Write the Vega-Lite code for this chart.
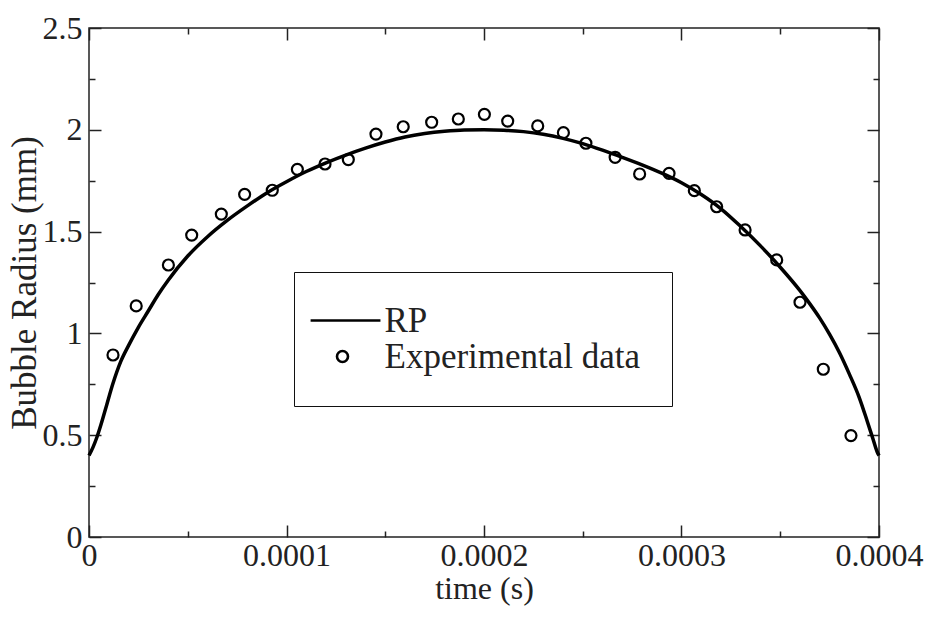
{
  "$schema": "https://vega.github.io/schema/vega-lite/v6.json",
  "width": 790,
  "height": 509,
  "autosize": "none",
  "padding": {"left": 89, "top": 28, "right": 48, "bottom": 80},
  "background": "white",
  "config": {
    "view": {"stroke": "#222", "strokeWidth": 1.5},
    "font": "'Liberation Serif', 'Times New Roman', Times, serif",
    "axis": {
      "labelFont": "'Liberation Serif', 'Times New Roman', Times, serif",
      "labelFontSize": 32,
      "labelColor": "#222",
      "titleFont": "'Liberation Serif', 'Times New Roman', Times, serif",
      "titleFontSize": 32,
      "titleFontWeight": "normal",
      "titleColor": "#222",
      "grid": false,
      "domain": false,
      "tickColor": "#222",
      "tickWidth": 1.5,
      "labelOverlap": false,
      "labelFlush": false
    },
    "legend": {
      "labelFont": "'Liberation Serif', 'Times New Roman', Times, serif",
      "labelFontSize": 35,
      "labelColor": "#222"
    }
  },
  "datasets": {
    "rp": [
      {"t": 0, "r": 0.40}, {"t": 0.000002, "r": 0.44}, {"t": 0.000004, "r": 0.49}, {"t": 0.000006, "r": 0.55},
      {"t": 0.000009, "r": 0.65}, {"t": 0.000012, "r": 0.75}, {"t": 0.000016, "r": 0.86}, {"t": 0.00002, "r": 0.94},
      {"t": 0.000025, "r": 1.03}, {"t": 0.00003, "r": 1.11}, {"t": 0.000035, "r": 1.19}, {"t": 0.00004, "r": 1.26},
      {"t": 0.00005, "r": 1.38}, {"t": 0.00006, "r": 1.475}, {"t": 0.00007, "r": 1.555}, {"t": 0.00008, "r": 1.625},
      {"t": 0.00009, "r": 1.69}, {"t": 0.0001, "r": 1.745}, {"t": 0.00011, "r": 1.795}, {"t": 0.00012, "r": 1.838},
      {"t": 0.00013, "r": 1.876}, {"t": 0.00014, "r": 1.91}, {"t": 0.00015, "r": 1.94}, {"t": 0.00016, "r": 1.965},
      {"t": 0.00017, "r": 1.982}, {"t": 0.00018, "r": 1.993}, {"t": 0.00019, "r": 1.999}, {"t": 0.0002, "r": 2.0},
      {"t": 0.00021, "r": 1.998}, {"t": 0.00022, "r": 1.991}, {"t": 0.00023, "r": 1.978}, {"t": 0.00024, "r": 1.958},
      {"t": 0.00025, "r": 1.932}, {"t": 0.00026, "r": 1.90}, {"t": 0.00027, "r": 1.865}, {"t": 0.00028, "r": 1.828},
      {"t": 0.00029, "r": 1.787}, {"t": 0.0003, "r": 1.74}, {"t": 0.00031, "r": 1.682}, {"t": 0.00032, "r": 1.612},
      {"t": 0.00033, "r": 1.525}, {"t": 0.00034, "r": 1.43}, {"t": 0.00035, "r": 1.325}, {"t": 0.00036, "r": 1.21},
      {"t": 0.000365, "r": 1.145}, {"t": 0.00037, "r": 1.075}, {"t": 0.000375, "r": 0.995}, {"t": 0.00038, "r": 0.905},
      {"t": 0.000385, "r": 0.80}, {"t": 0.00039, "r": 0.685}, {"t": 0.000394, "r": 0.57}, {"t": 0.000397, "r": 0.48},
      {"t": 0.000399, "r": 0.42}, {"t": 0.0004, "r": 0.40}
    ],
    "exp": [
      {"t": 0.00001215, "r": 0.894, "series": "Experimental data"},
      {"t": 0.0000239, "r": 1.135, "series": "Experimental data"},
      {"t": 0.0000402, "r": 1.336, "series": "Experimental data"},
      {"t": 0.000052, "r": 1.483, "series": "Experimental data"},
      {"t": 0.000067, "r": 1.586, "series": "Experimental data"},
      {"t": 0.0000788, "r": 1.683, "series": "Experimental data"},
      {"t": 0.0000928, "r": 1.703, "series": "Experimental data"},
      {"t": 0.0001055, "r": 1.806, "series": "Experimental data"},
      {"t": 0.0001195, "r": 1.832, "series": "Experimental data"},
      {"t": 0.0001313, "r": 1.854, "series": "Experimental data"},
      {"t": 0.0001453, "r": 1.979, "series": "Experimental data"},
      {"t": 0.0001591, "r": 2.015, "series": "Experimental data"},
      {"t": 0.0001735, "r": 2.037, "series": "Experimental data"},
      {"t": 0.000187, "r": 2.053, "series": "Experimental data"},
      {"t": 0.0002002, "r": 2.076, "series": "Experimental data"},
      {"t": 0.000212, "r": 2.043, "series": "Experimental data"},
      {"t": 0.0002272, "r": 2.019, "series": "Experimental data"},
      {"t": 0.0002402, "r": 1.986, "series": "Experimental data"},
      {"t": 0.0002516, "r": 1.934, "series": "Experimental data"},
      {"t": 0.0002664, "r": 1.865, "series": "Experimental data"},
      {"t": 0.0002788, "r": 1.783, "series": "Experimental data"},
      {"t": 0.0002937, "r": 1.786, "series": "Experimental data"},
      {"t": 0.0003065, "r": 1.701, "series": "Experimental data"},
      {"t": 0.0003178, "r": 1.622, "series": "Experimental data"},
      {"t": 0.0003322, "r": 1.508, "series": "Experimental data"},
      {"t": 0.0003482, "r": 1.361, "series": "Experimental data"},
      {"t": 0.00036, "r": 1.153, "series": "Experimental data"},
      {"t": 0.0003718, "r": 0.824, "series": "Experimental data"},
      {"t": 0.0003858, "r": 0.498, "series": "Experimental data"}
    ]
  },
  "layer": [
    {
      "data": {"name": "rp"},
      "mark": {"type": "line", "color": "black", "strokeWidth": 3.5, "interpolate": "monotone"},
      "encoding": {
        "x": {
          "field": "t", "type": "quantitative",
          "scale": {"domain": [0, 0.0004], "nice": false, "zero": false},
          "axis": {
            "orient": "bottom",
            "title": "time (s)",
            "values": [0, 0.00005, 0.0001, 0.00015, 0.0002, 0.00025, 0.0003, 0.00035, 0.0004],
            "labelExpr": "round(datum.value*100000) % 10 == 0 ? format(datum.value, '~g') : ''",
            "tickSize": {"condition": {"test": "round(datum.value*100000) % 10 == 0", "value": -12}, "value": -6},
            "labelPadding": 15,
            "titlePadding": -4
          }
        },
        "y": {
          "field": "r", "type": "quantitative",
          "scale": {"domain": [0, 2.5], "nice": false},
          "axis": {
            "orient": "left",
            "title": "Bubble Radius (mm)",
            "titleFontSize": 35,
            "values": [0, 0.25, 0.5, 0.75, 1, 1.25, 1.5, 1.75, 2, 2.25, 2.5],
            "labelExpr": "round(datum.value*4) % 2 == 0 ? format(datum.value, '~g') : ''",
            "tickSize": {"condition": {"test": "round(datum.value*4) % 2 == 0", "value": -12}, "value": -6},
            "labelPadding": 19,
            "titlePadding": 0
          }
        }
      }
    },
    {
      "data": {"name": "exp"},
      "mark": {"type": "point", "filled": false, "color": "black", "size": 121, "strokeWidth": 2.2, "opacity": 1},
      "encoding": {
        "x": {
          "field": "t", "type": "quantitative",
          "axis": {
            "orient": "top",
            "title": null,
            "labels": false,
            "values": [0, 0.00005, 0.0001, 0.00015, 0.0002, 0.00025, 0.0003, 0.00035, 0.0004],
            "tickSize": {"condition": {"test": "round(datum.value*100000) % 10 == 0", "value": -12}, "value": -6}
          }
        },
        "y": {
          "field": "r", "type": "quantitative",
          "axis": {
            "orient": "right",
            "title": null,
            "labels": false,
            "values": [0, 0.25, 0.5, 0.75, 1, 1.25, 1.5, 1.75, 2, 2.25, 2.5],
            "tickSize": {"condition": {"test": "round(datum.value*4) % 2 == 0", "value": -12}, "value": -6}
          }
        },
        "shape": {
          "field": "series", "type": "nominal",
          "scale": {"domain": ["RP", "Experimental data"], "range": ["M-5.8,0H6.9", "circle"]},
          "legend": {
            "title": null,
            "orient": "none",
            "legendX": 205,
            "legendY": 244,
            "padding": 31,
            "strokeColor": "#111",
            "fillColor": "white",
            "labelOffset": 24.5,
            "rowPadding": 0,
            "symbolSize": 121,
            "symbolStrokeWidth": 2.6,
            "symbolStrokeColor": "black",
            "labelLimit": 400
          }
        }
      }
    }
  ],
  "resolve": {"axis": {"x": "independent", "y": "independent"}}
}
